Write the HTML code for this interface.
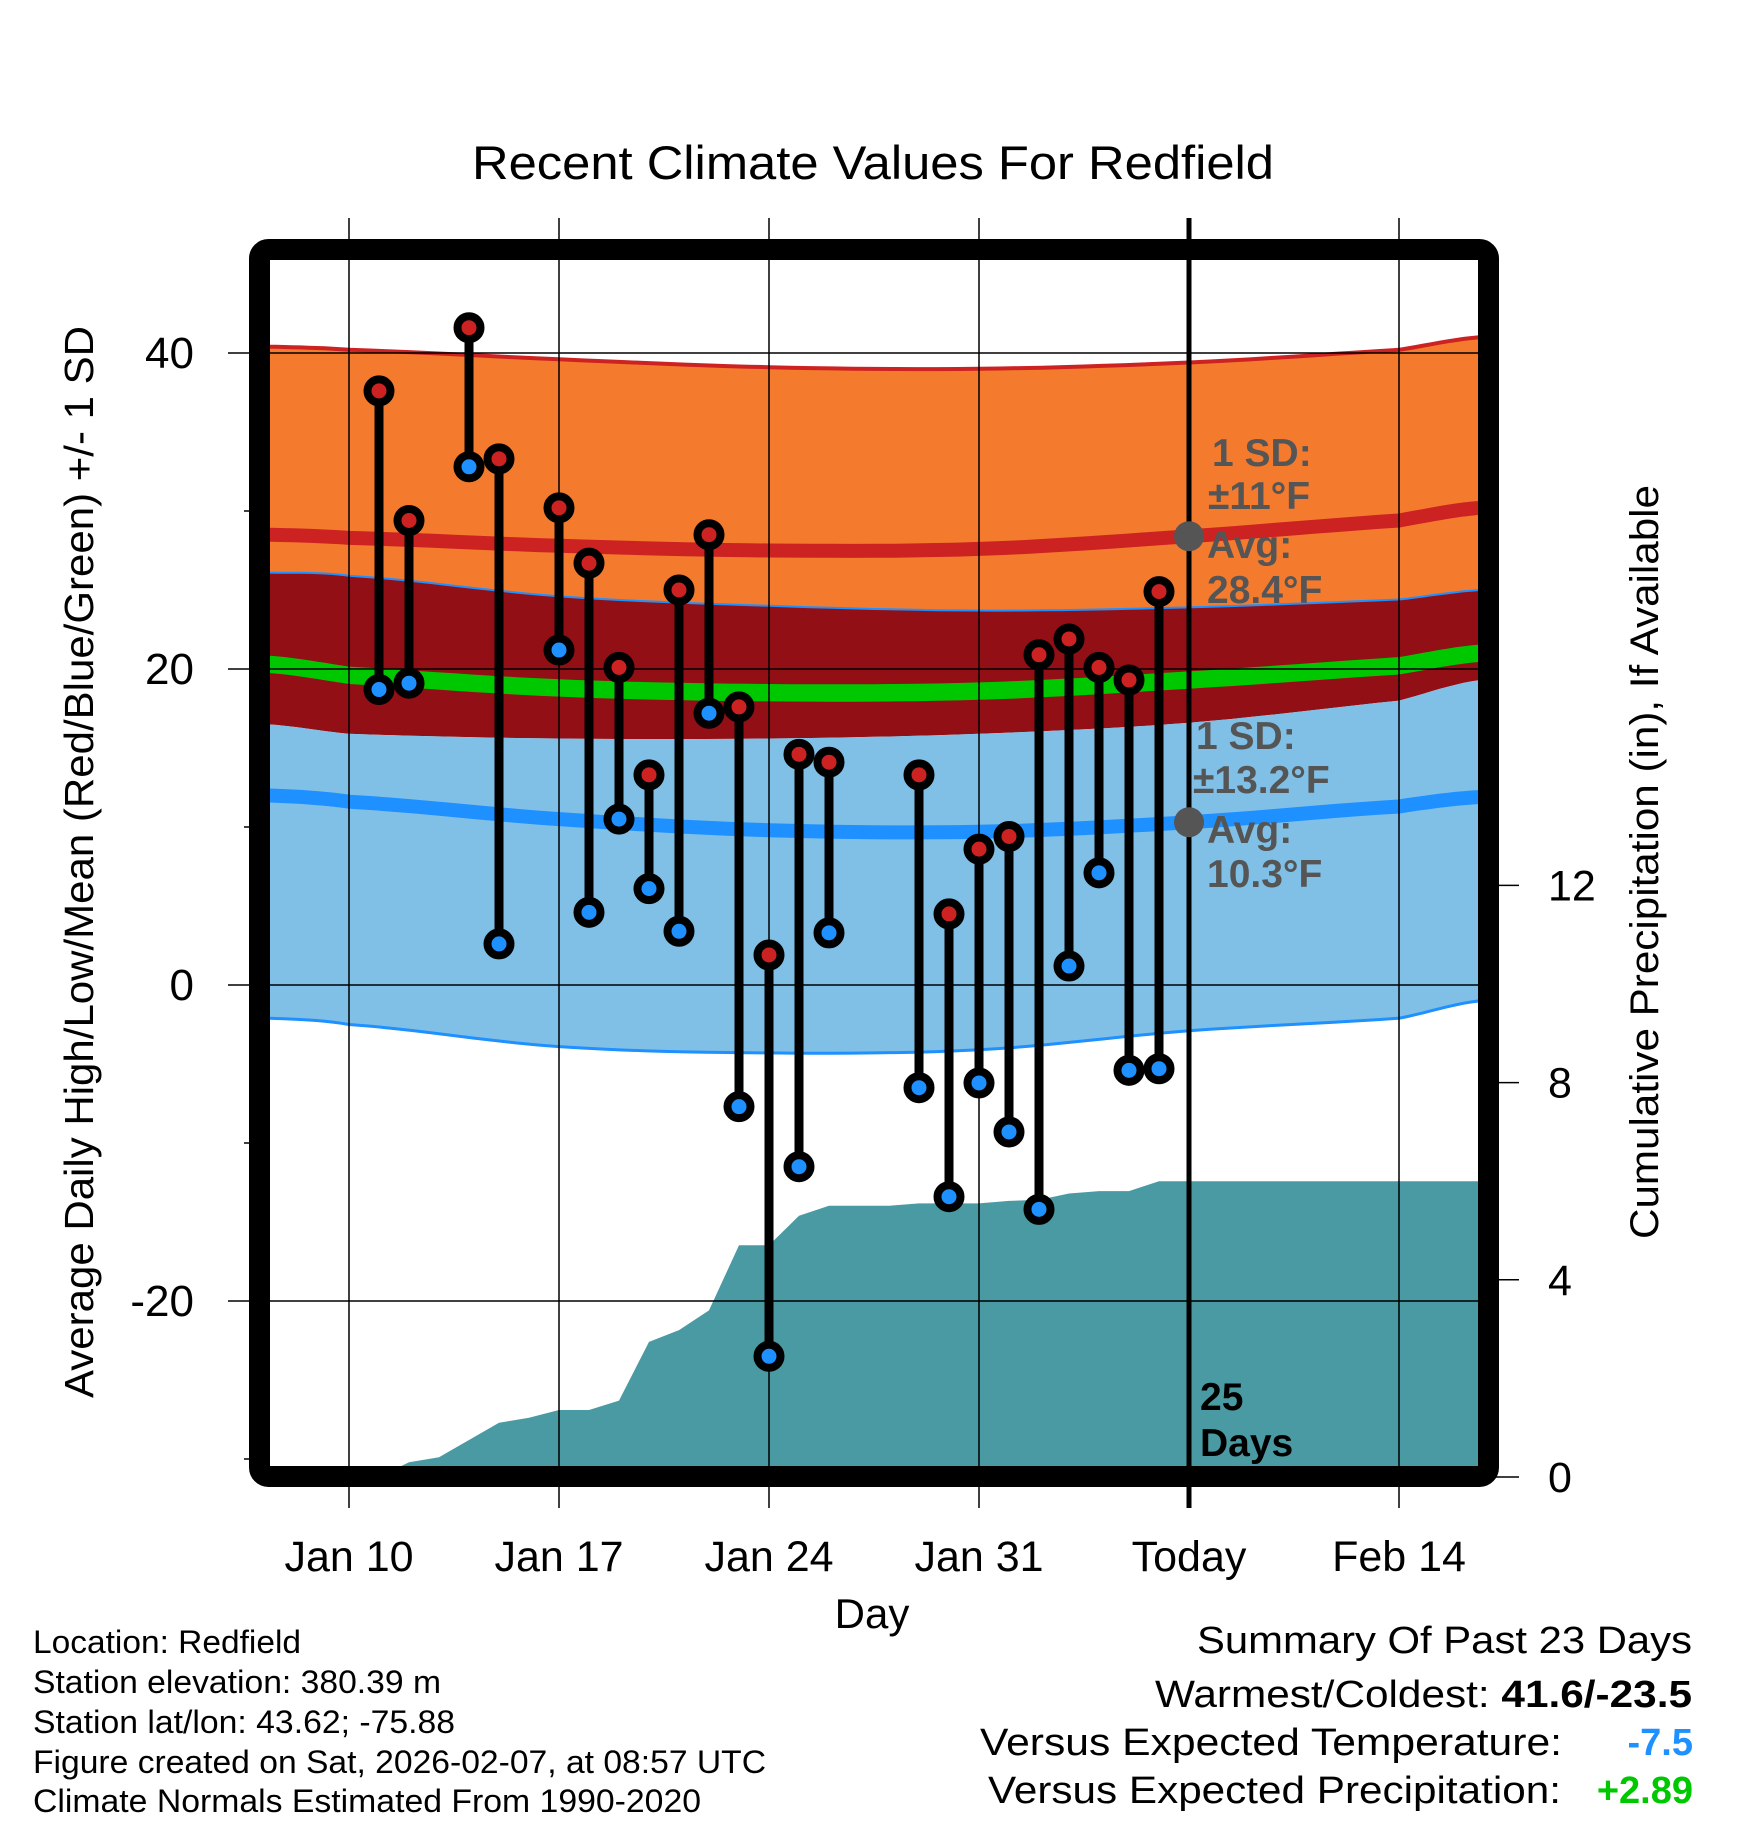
<!DOCTYPE html>
<html><head><meta charset="utf-8">
<style>
html,body{margin:0;padding:0;background:#fff;}
svg{display:block;font-family:"Liberation Sans",Arial,sans-serif;}
</style></head>
<body>
<svg id="chart" width="1748" height="1828" viewBox="0 0 1748 1828" xmlns="http://www.w3.org/2000/svg">
<defs><clipPath id="plotclip"><rect x="270" y="260" width="1208" height="1206"/></clipPath></defs>
<rect x="0" y="0" width="1748" height="1828" fill="#fff"/>
<text x="472" y="179" font-size="47" textLength="802" lengthAdjust="spacingAndGlyphs">Recent Climate Values For Redfield</text>
<g id="plot" clip-path="url(#plotclip)"></g>
<g id="over"></g>
<rect x="259.5" y="249.5" width="1229" height="1227" rx="9" fill="none" stroke="#000" stroke-width="21"/>
<g id="axes"></g>
<text transform="translate(93,862) rotate(-90)" font-size="41" text-anchor="middle" textLength="1072" lengthAdjust="spacingAndGlyphs">Average Daily High/Low/Mean (Red/Blue/Green) +/- 1 SD</text>
<text transform="translate(1658,862) rotate(-90)" font-size="40" text-anchor="middle" textLength="754" lengthAdjust="spacingAndGlyphs">Cumulative Precipitation (in), If Available</text>
<text x="872" y="1628" font-size="42" text-anchor="middle">Day</text>
<g font-size="32">
<text x="33" y="1653" textLength="268" lengthAdjust="spacingAndGlyphs">Location: Redfield</text>
<text x="33" y="1693" textLength="408" lengthAdjust="spacingAndGlyphs">Station elevation: 380.39 m</text>
<text x="33" y="1733" textLength="422" lengthAdjust="spacingAndGlyphs">Station lat/lon: 43.62; -75.88</text>
<text x="33" y="1773" textLength="733" lengthAdjust="spacingAndGlyphs">Figure created on Sat, 2026-02-07, at 08:57 UTC</text>
<text x="33" y="1812" textLength="668" lengthAdjust="spacingAndGlyphs">Climate Normals Estimated From 1990-2020</text>
</g>
<g font-size="38">
<text x="1197" y="1653" textLength="495" lengthAdjust="spacingAndGlyphs">Summary Of Past 23 Days</text>
<text x="1155" y="1707" textLength="537" lengthAdjust="spacingAndGlyphs">Warmest/Coldest: <tspan font-weight="bold">41.6/-23.5</tspan></text>
<text x="980" y="1755" textLength="582" lengthAdjust="spacingAndGlyphs">Versus Expected Temperature:</text>
<text x="1693" y="1755" font-weight="bold" fill="#1e90ff" text-anchor="end">-7.5</text>
<text x="988" y="1803" textLength="573" lengthAdjust="spacingAndGlyphs">Versus Expected Precipitation:</text>
<text x="1693" y="1803" font-weight="bold" fill="#00c800" text-anchor="end">+2.89</text>
</g>
</svg>
<script>
// ---- data ----
const obsDays = [1,2,4,5,7,8,9,10,11,12,13,14,15,16,19,20,21,22,23,24,25,26,27]; // days after Jan 10
const obsHigh = [37.6,29.4,41.6,33.3,30.2,26.7,20.1,13.3,25.0,28.5,17.6,1.9,14.6,14.1,13.3,4.5,8.6,9.4,20.9,21.9,20.1,19.3,24.9];
const obsLow  = [18.7,19.1,32.8,2.6,21.2,4.6,10.5,6.1,3.4,17.2,-7.7,-23.5,-11.5,3.3,-6.5,-13.4,-6.2,-9.3,-14.2,1.2,7.1,-5.4,-5.3];
const normDays = [-2.7,0,7,14,21,28,35,37.7];
const highUpper = [40.4,40.2,39.6,39.1,39.0,39.4,40.2,41.0];
const highAvg   = [28.5,28.3,27.8,27.5,27.6,28.4,29.4,30.2];
const highLower = [16.5,15.9,15.6,15.6,15.9,16.6,18.0,19.3];
const meanAvg   = [20.3,19.6,18.8,18.5,18.6,19.3,20.2,21.0];
const lowUpper  = [26.1,25.9,24.6,24.0,23.7,23.9,24.4,25.0];
const lowAvg    = [12.0,11.6,10.5,9.8,9.7,10.3,11.3,11.9];
const lowLower  = [-2.1,-2.5,-3.9,-4.3,-4.1,-2.9,-2.1,-1.0];
const precipDays = [1,2,3,4,5,6,7,8,9,10,11,12,13,14,15,16,17,18,19,20,21,22,23,24,25,26,27,28,37.7];
const precipVals = [0,0.3,0.4,0.75,1.1,1.2,1.36,1.36,1.55,2.74,2.98,3.38,4.7,4.7,5.3,5.5,5.5,5.5,5.55,5.55,5.55,5.6,5.62,5.75,5.8,5.8,6.0,6.0,6.0];
const xTickDays = [0,7,14,21,28,35];
const xTickLabels = ['Jan 10','Jan 17','Jan 24','Jan 31','Today','Feb 14'];
const yTicks = [-20,0,20,40];
const yMinor = [-30,-10,10,30];
const y2Ticks = [0,4,8,12];
const todayDay = 28;
const todayHighAvg = 28.4, todayLowAvg = 10.3;

// ---- scales ----
const X = d => 349 + d*30;
const Y = t => 985 - t*15.8;
const Y2 = p => 1477 - p*49.3;
const NS='http://www.w3.org/2000/svg';
function mk(tag, attrs, parent){const e=document.createElementNS(NS,tag);for(const k in attrs)e.setAttribute(k,attrs[k]);parent.appendChild(e);return e;}
const plot=document.getElementById('plot'), over=document.getElementById('over'), axes=document.getElementById('axes');

function curvePts(arr){
  const pts=[];
  for(let i=0;i<normDays.length-1;i++){
    const p0=arr[Math.max(i-1,0)],p1=arr[i],p2=arr[i+1],p3=arr[Math.min(i+2,arr.length-1)];
    const d1=normDays[i],d2=normDays[i+1];
    for(let s=0;s<10;s++){const t=s/10;
      const v=0.5*((2*p1)+(-p0+p2)*t+(2*p0-5*p1+4*p2-p3)*t*t+(-p0+3*p1-3*p2+p3)*t*t*t);
      pts.push([X(d1+(d2-d1)*t),Y(v)]);}
  }
  pts.push([X(normDays[normDays.length-1]),Y(arr[arr.length-1])]);
  return pts;
}
const ptsStr=p=>p.map(q=>q[0].toFixed(1)+','+q[1].toFixed(1)).join(' ');
function band(upper,lower,fill,name){
  const a=curvePts(upper),b=curvePts(lower).reverse();
  const e=mk('polygon',{points:ptsStr(a.concat(b)),fill:fill},plot);
  
  
}
function line(arr,color,w,name){
  const e=mk('polyline',{points:ptsStr(curvePts(arr)),fill:'none',stroke:color,'stroke-width':w},plot);
  
  
}
band(highUpper,highLower,'#f47b2e','high-sd-band');
band(lowUpper,highLower,'#930f16','overlap-band');
band(highLower,lowLower,'#80c0e6','low-sd-band');
line(highUpper,'#cc2222',4,'high-upper-line');
line(lowUpper,'#1e90ff',2,'low-upper-line');
line(lowLower,'#1e90ff',3,'low-lower-line');
const mu=meanAvg.map(v=>v+0.55), ml=meanAvg.map(v=>v-0.55);
band(mu,ml,'#00c800','mean-band');
line(highAvg,'#cc2222',14,'high-avg-line');
line(lowAvg,'#1e90ff',14,'low-avg-line');

// precipitation
{
  const pts=[[X(-3),Y2(0)]];
  precipDays.forEach((d,i)=>pts.push([X(d),Y2(precipVals[i])]));
  pts.push([X(38),Y2(precipVals[precipVals.length-1])],[X(38),1480],[X(-3),1480]);
  const e=mk('polygon',{points:ptsStr(pts),fill:'#4a9aa3'},plot);
  
  
}
// gridlines
xTickDays.forEach((d,i)=>{
  const g=mk('line',{x1:X(d),x2:X(d),y1:218,y2:1508,stroke:'#000','stroke-width':d===todayDay?5:1.5},over);
  
  
  const t=mk('text',{x:X(d),y:1571,'font-size':43,'text-anchor':'middle'},axes);
  t.textContent=xTickLabels[i];
  
  
});
yTicks.forEach(v=>{
  const g=mk('line',{x1:228,x2:1478,y1:Y(v),y2:Y(v),stroke:'#000','stroke-width':1.5},over);
  
  
  const t=mk('text',{x:194,y:Y(v)+15,'font-size':44,'text-anchor':'end'},axes);
  t.textContent=v;
  
  
});
yMinor.forEach(v=>{
  const g=mk('line',{x1:244,x2:252,y1:Y(v),y2:Y(v),stroke:'#000','stroke-width':1.5},axes);
  
  
});
y2Ticks.forEach(v=>{
  const g=mk('line',{x1:1496,x2:1519,y1:Y2(v),y2:Y2(v),stroke:'#000','stroke-width':1.5},axes);
  
  
  const t=mk('text',{x:1548,y:Y2(v)+15,'font-size':43},axes);
  t.textContent=v;
  
  
});
// observations
obsDays.forEach((d,i)=>{
  const x=X(d);
  const s=mk('line',{x1:x,x2:x,y1:Y(obsHigh[i]),y2:Y(obsLow[i]),stroke:'#000','stroke-width':9},over);
  
  
  [[obsHigh[i],'#cc2222','high-point'],[obsLow[i],'#1e90ff','low-point']].forEach(o=>{
    const c=mk('circle',{cx:x,cy:Y(o[0]),r:11.5,fill:o[1],stroke:'#000','stroke-width':8},over);
    
    
  });
});
// today markers
[todayHighAvg,todayLowAvg].forEach(v=>{
  const c=mk('circle',{cx:X(todayDay),cy:Y(v),r:15,fill:'#555'},over);
  
  
});
const ann=[[1212,466,'1 SD:'],[1208,509,'±11°F'],[1207,558,'Avg:'],[1207,603,'28.4°F'],
           [1196,749,'1 SD:'],[1193,793,'±13.2°F'],[1207,843,'Avg:'],[1207,887,'10.3°F']];
ann.forEach(a=>{
  const t=mk('text',{x:a[0],y:a[1],'font-size':39,'font-weight':'bold',fill:'#555'},over);
  t.textContent=a[2];
  
  
});
[[1200,1410,'25'],[1200,1456,'Days']].forEach(a=>{
  const t=mk('text',{x:a[0],y:a[1],'font-size':39,'font-weight':'bold',fill:'#000'},over);
  t.textContent=a[2];
  
  
});
</script>
</body></html>
